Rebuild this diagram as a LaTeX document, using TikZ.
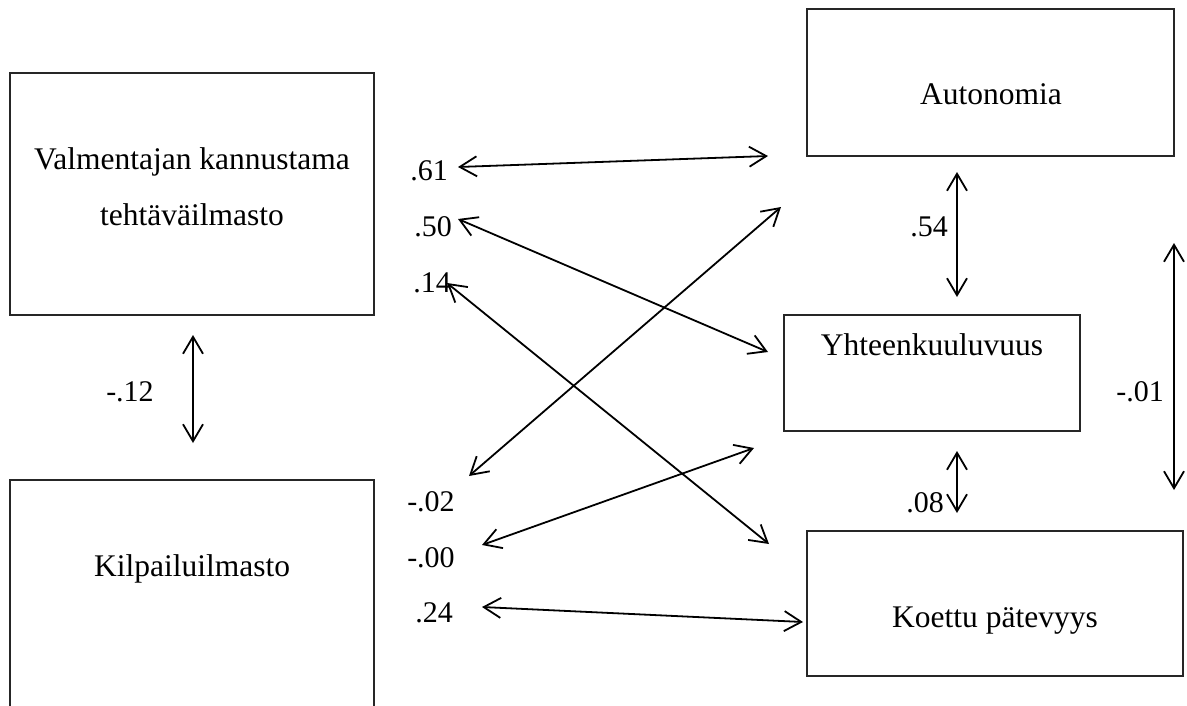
\documentclass[tikz,border=0pt]{standalone}
\usepackage{fontspec}
\setmainfont{Liberation Serif}
\usetikzlibrary{arrows.meta,fit}
\begin{document}
\begin{tikzpicture}[x=1pt,y=-1pt,
  boxnode/.style={draw=black!85, line width=1.4pt, inner sep=0pt, rectangle},
  boxtext/.style={font=\fontsize{31.5}{56}\selectfont, inner sep=0pt, anchor=base},
  coef/.style={font=\fontsize{30}{36}\selectfont, inner sep=0pt, anchor=base},
  corr/.style={line width=1.8pt, {Straight Barb[length=17pt,width=20pt]}-{Straight Barb[length=17pt,width=20pt]}}]
\useasboundingbox (0,0) rectangle (1187,705);
% boxes
\node[boxnode, fit={(10,73) (374,315)}] (vtbox) {};
\node[boxnode, fit={(10,480) (374,760)}] (kibox) {};
\node[boxnode, fit={(807,9) (1174,156)}] (aubox) {};
\node[boxnode, fit={(784,315) (1080,431)}] (yhbox) {};
\node[boxnode, fit={(807,531) (1183,676)}] (kobox) {};
% box texts
\node[font=\fontsize{31.5}{56}\selectfont, inner sep=0pt, align=center] (vttext) at (192,187) {Valmentajan kannustama\\tehtäväilmasto};
\node[boxtext] (kitext) at (192,576) {Kilpailuilmasto};
\node[boxtext] (autext) at (991,104) {Autonomia};
\node[boxtext] (yhtext) at (932,355) {Yhteenkuuluvuus};
\node[boxtext] (kotext) at (995,627) {Koettu pätevyys};
% coefficients
\node[coef] (c61) at (429,180) {.61};
\node[coef] (c50) at (433,236) {.50};
\node[coef] (c14) at (432,292) {.14};
\node[coef] (c02) at (431,511) {-.02};
\node[coef] (c00) at (431,567) {-.00};
\node[coef] (c24) at (434,622) {.24};
\node[coef] (c12) at (130,401) {-.12};
\node[coef] (c54) at (929,236) {.54};
\node[coef] (c08) at (925,512) {.08};
\node[coef] (c01) at (1140,401) {-.01};
% connector end points
\coordinate (p61a) at (458,167); \coordinate (p61b) at (768,156);
\coordinate (p50a) at (458,219); \coordinate (p50b) at (768,352);
\coordinate (p14a) at (447,283); \coordinate (p14b) at (769,544);
\coordinate (p02a) at (469,476); \coordinate (p02b) at (781,207);
\coordinate (p00a) at (482,545); \coordinate (p00b) at (754,448);
\coordinate (p24a) at (482,607); \coordinate (p24b) at (803,622);
\coordinate (p12a) at (193,335); \coordinate (p12b) at (193,443);
\coordinate (p54a) at (957,172); \coordinate (p54b) at (957,297);
\coordinate (p08a) at (957,451); \coordinate (p08b) at (957,513);
\coordinate (p01a) at (1174,243); \coordinate (p01b) at (1174,490);
% connectors
\draw[corr] (p61a) -- (p61b);
\draw[corr] (p50a) -- (p50b);
\draw[corr] (p14a) -- (p14b);
\draw[corr] (p02a) -- (p02b);
\draw[corr] (p00a) -- (p00b);
\draw[corr] (p24a) -- (p24b);
\draw[corr] (p12a) -- (p12b);
\draw[corr] (p54a) -- (p54b);
\draw[corr] (p08a) -- (p08b);
\draw[corr] (p01a) -- (p01b);
\end{tikzpicture}
\end{document}
